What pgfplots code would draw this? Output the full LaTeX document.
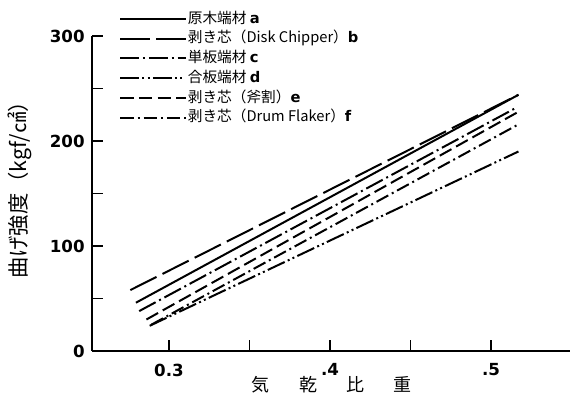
\documentclass[border=0pt]{standalone}
\usepackage{fontspec}
\setmainfont{DejaVu Sans}
\newfontfamily\cjk{Noto Sans CJK JP}
\newfontfamily\tickfont{DejaVu Sans}
\usepackage{pgfplots}
\pgfplotsset{compat=1.18}
\usetikzlibrary{calc}
\begin{document}
\begin{tikzpicture}
\begin{axis}[
  name=ax,
  scale only axis,
  width=358.5pt, height=236.25pt,
  xmin=0.2522, xmax=0.549,
  ymin=0, ymax=300,
  axis lines=left,
  axis line style={-, line width=1.2pt},
  xtick={0.3,0.35,0.4,0.45,0.5},
  xticklabels={0.3,,.4,,.5},
  ytick={0,50,100,150,200,250,300},
  yticklabels={0,,100,,200,,300},
  tick align=inside,
  major tick length=8pt,
  tick style={line width=1.1pt, black},
  /pgf/number format/assume math mode=true,
  ticklabel style={font=\tickfont\bfseries\fontsize{12.5}{13}\selectfont},
  xticklabel style={yshift=-6pt},
  yticklabel style={xshift=-2pt},
  xlabel={\cjk\fontsize{13.5}{13.5}\selectfont 気\hspace{22pt}乾\hspace{22pt}比\hspace{22pt}重},
  xlabel style={at={(axis description cs:0.502,-0.106)}, anchor=center},
  ylabel={\cjk\fontsize{16}{16}\selectfont 曲げ強度（kgf/㎠）},
  ylabel style={at={(axis description cs:-0.151,0.527)}, anchor=center, rotate=0},
  legend cell align=left,
  legend image code/.code={\draw[#1] (0pt,0pt) -- (49pt,0pt);},
  legend style={at={(axis description cs:0.048,1.09)}, anchor=north west,
    draw=none, fill=none, font=\cjk\fontsize{11}{12}\selectfont,
    nodes={inner sep=1pt, text height=8.5pt, text depth=2pt},
    row sep=2.3pt},
  clip=false,
]
% a solid
\addplot[black, line width=1.5pt] coordinates {(0.2795,46) (0.517,244)};
\addlegendentry{原木端材 {\tickfont\bfseries a}}
% b long dash
\addplot[black, line width=1.5pt, dash pattern=on 22pt off 5pt] coordinates {(0.276,58) (0.517,244)};
\addlegendentry{剥き芯（Disk Chipper）{\tickfont\bfseries b}}
% c dash dot
\addplot[black, line width=1.5pt, dash pattern=on 14pt off 3pt on 1.5pt off 3pt] coordinates {(0.2815,38) (0.516,232)};
\addlegendentry{単板端材 {\tickfont\bfseries c}}
% d dash dot dot
\addplot[black, line width=1.5pt, dash pattern=on 14pt off 2.5pt on 1.5pt off 2.5pt on 1.5pt off 2.5pt] coordinates {(0.288,24) (0.517,190)};
\addlegendentry{合板端材 {\tickfont\bfseries d}}
% e dashed
\addplot[black, line width=1.5pt, dash pattern=on 10pt off 4pt] coordinates {(0.286,30) (0.516,227)};
\addlegendentry{剥き芯（斧割）{\tickfont\bfseries e}}
% f dash dot
\addplot[black, line width=1.5pt, dash pattern=on 10pt off 3pt on 1.5pt off 3pt] coordinates {(0.289,25) (0.516,215)};
\addlegendentry{剥き芯（Drum Flaker）{\tickfont\bfseries f}}
\end{axis}
\pgfresetboundingbox
\path ($(ax.south west)+(-69pt,-48pt)$) rectangle ($(ax.north east)+(0pt,27pt)$);
\end{tikzpicture}
\end{document}
